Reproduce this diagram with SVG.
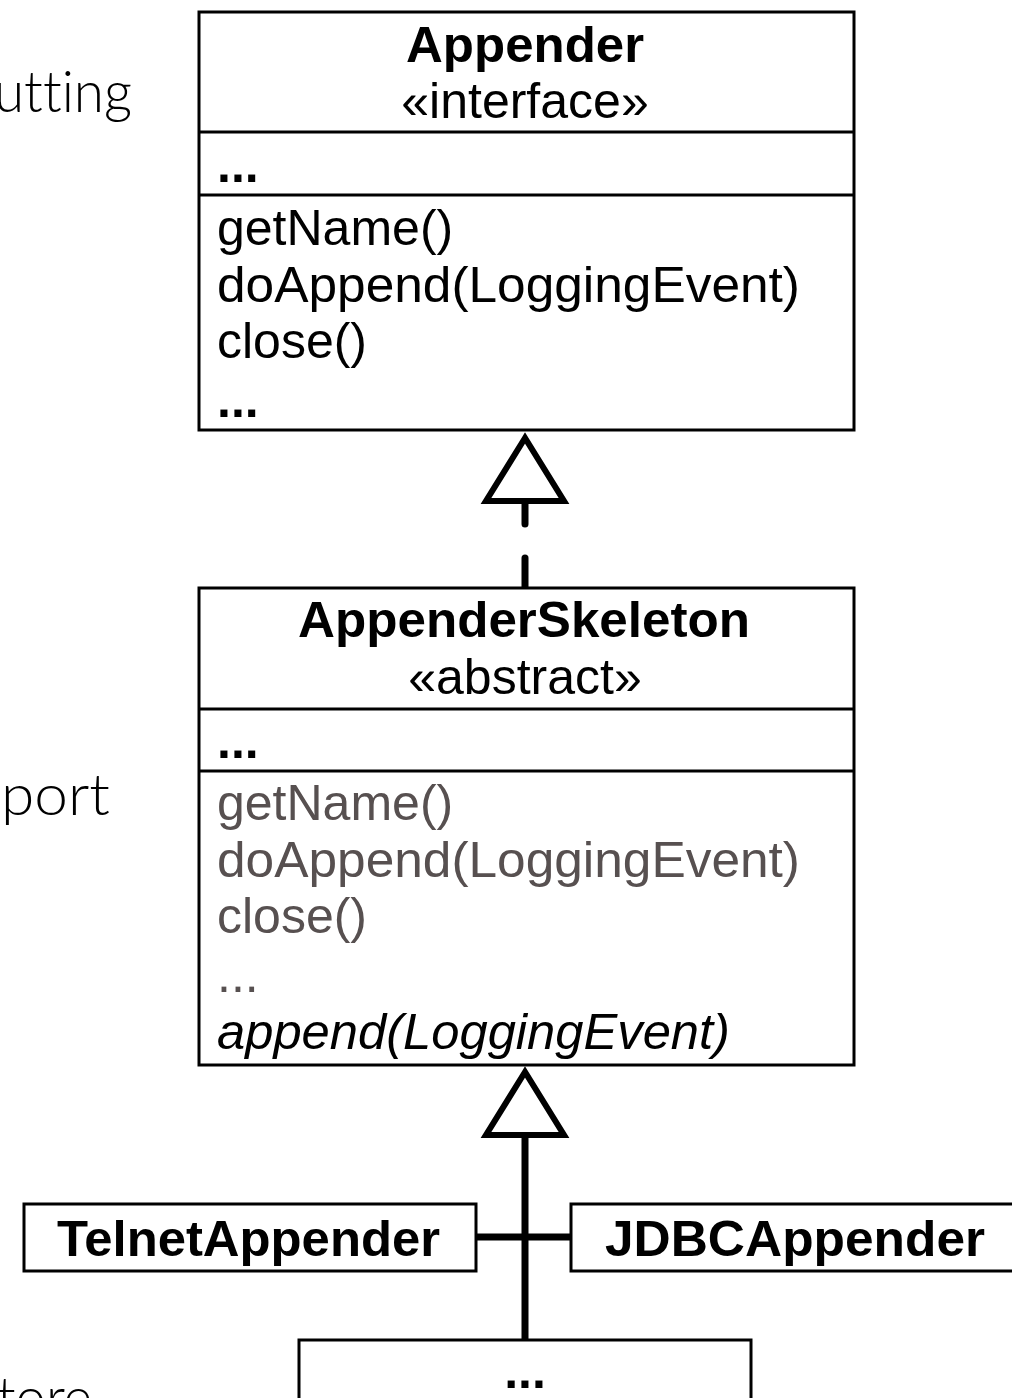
<svg xmlns="http://www.w3.org/2000/svg" width="1012" height="1398" viewBox="0 0 1012 1398">
<style>
.box{fill:#fff;stroke:#000;stroke-width:3}
.div{stroke:#000;stroke-width:3}
.t{font-family:"Liberation Sans",Arial,sans-serif;font-size:50px;fill:#000}
.b{font-weight:bold}
.c{text-anchor:middle}
.g{fill:#575050}
.i{font-style:italic}
.side{font-family:Lato,"Open Sans","Noto Sans",sans-serif;font-weight:300;font-size:57px;fill:#000;font-variant-ligatures:none;font-feature-settings:"liga" 0}
.conn{stroke:#000;stroke-width:7;fill:none}
.tri{fill:#fff;stroke:#000;stroke-width:6;stroke-linejoin:miter}
</style>
<rect width="1012" height="1398" fill="#fff"/>
<g id="side-text">
<text class="side" x="-6" y="112" textLength="138" lengthAdjust="spacingAndGlyphs">utting</text>
<text class="side" x="1" y="815" textLength="109" lengthAdjust="spacingAndGlyphs">port</text>
<text class="side" x="-3" y="1418" textLength="95" lengthAdjust="spacingAndGlyphs">tore</text>
</g>
<g id="connectors">
<polygon class="tri" points="525,438 486,501 564,501"/>
<line class="conn" x1="525" y1="504" x2="525" y2="524" stroke-linecap="round"/>
<line class="conn" x1="525" y1="558" x2="525" y2="588" stroke-linecap="round"/>
<polygon class="tri" points="525,1072 486,1135 564,1135"/>
<line class="conn" x1="525" y1="1138" x2="525" y2="1340"/>
<line class="conn" x1="473" y1="1237" x2="571" y2="1237" stroke-linecap="round"/>
</g>
<g id="appender">
<rect class="box" x="199" y="12" width="655" height="418"/>
<line class="div" x1="199" y1="132" x2="854" y2="132"/>
<line class="div" x1="199" y1="195" x2="854" y2="195"/>
<text class="t b c" x="525" y="62" textLength="238" lengthAdjust="spacingAndGlyphs">Appender</text>
<text class="t c" x="525" y="118">«interface»</text>
<text class="t b" x="217" y="182">...</text>
<text class="t" x="217" y="245">getName()</text>
<text class="t" x="217" y="302" textLength="583" lengthAdjust="spacingAndGlyphs">doAppend(LoggingEvent)</text>
<text class="t" x="217" y="358">close()</text>
<text class="t b" x="217" y="417">...</text>
</g>
<g id="appender-skeleton">
<rect class="box" x="199" y="588" width="655" height="477"/>
<line class="div" x1="199" y1="709" x2="854" y2="709"/>
<line class="div" x1="199" y1="771" x2="854" y2="771"/>
<text class="t b c" x="524" y="637" textLength="452" lengthAdjust="spacingAndGlyphs">AppenderSkeleton</text>
<text class="t c" x="525" y="694">«abstract»</text>
<text class="t b" x="217" y="758">...</text>
<text class="t g" x="217" y="820">getName()</text>
<text class="t g" x="217" y="877" textLength="583" lengthAdjust="spacingAndGlyphs">doAppend(LoggingEvent)</text>
<text class="t g" x="217" y="933">close()</text>
<text class="t g" x="217" y="992">...</text>
<text class="t i" x="217" y="1049" textLength="513" lengthAdjust="spacingAndGlyphs">append(LoggingEvent)</text>
</g>
<g id="telnet-appender">
<rect class="box" x="24" y="1204" width="452" height="67"/>
<text class="t b" x="57" y="1256" textLength="383" lengthAdjust="spacingAndGlyphs">TelnetAppender</text>
</g>
<g id="jdbc-appender">
<rect class="box" x="571" y="1204" width="460" height="67"/>
<text class="t b" x="605" y="1256" textLength="380" lengthAdjust="spacingAndGlyphs">JDBCAppender</text>
</g>
<g id="more-appenders">
<rect class="box" x="299" y="1340" width="452" height="80"/>
<text class="t b c" x="525" y="1388">...</text>
</g>
</svg>
